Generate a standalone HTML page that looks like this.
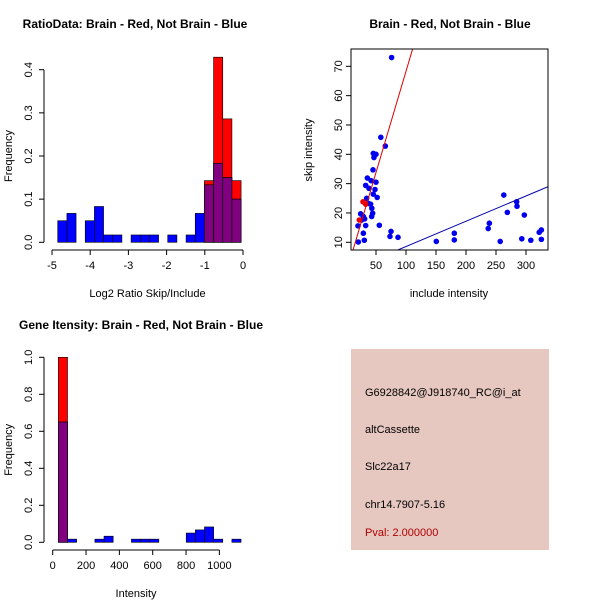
<!DOCTYPE html>
<html><head><meta charset="utf-8"><style>
body{margin:0;background:#fff}
svg{display:block;font-family:"Liberation Sans",sans-serif}
</style></head><body>
<svg id="c" width="600" height="600" viewBox="0 0 600 600" xmlns="http://www.w3.org/2000/svg">
<rect width="600" height="600" fill="#fff"/>
<g id="p1"></g>
<g id="p2"></g>
<g id="p3"></g>
<g id="p4">
<rect x="351" y="349" width="198" height="201" fill="#e6c8c1"/>
<text x="365" y="396" font-size="11">G6928842@J918740_RC@i_at</text>
<text x="365" y="433" font-size="11">altCassette</text>
<text x="365" y="470" font-size="11">Slc22a17</text>
<text x="365" y="508" font-size="11">chr14.7907-5.16</text>
<text x="365" y="536" font-size="11" fill="#b00000">Pval: 2.000000</text>
</g>
</svg>
<script>
// ---- Plot 1 data
const ratioBinStart = -4.85;
const ratioBinWidth = 0.24;
const ratioBlue = [0.05,0.067,0,0.05,0.083,0.017,0.017,0,0.017,0.017,0.017,0,0.017,0,0.017,0.067,0.133,0.183,0.15,0.1];
const ratioRed = [0,0,0,0,0,0,0,0,0,0,0,0,0,0,0,0,0.143,0.429,0.286,0.143];
const ratioXTicks = [-5,-4,-3,-2,-1,0];
const ratioYTicks = [0,0.1,0.2,0.3,0.4];
// ---- Plot 2 data
const incIntensity = [76,58,65.5,45.5,46.6,50,45,35.6,42,50,32.8,38.3,48.3,45.5,52,34.4,37,41,43,44.4,42.8,24.4,28.9,26,31,32.8,20,28.9,30.5,20.5,55.5,75,73.3,86.7,150.5,180.5,180.5,237,238.9,263,268.9,284.4,285,297.2,257,293,308,322,325.6,325.6];
const skipIntensity = [73,45.8,42.8,40.3,38.9,40,34.7,31.9,31,30.5,29.4,28.4,28,26.4,25.3,25,23.3,23,21.6,19.9,18.8,19.7,18.8,17.6,18,15.7,15.6,13.1,10.7,10.1,15.8,13.7,12,11.7,10.3,13.1,10.8,14.7,16.5,26.1,20.2,23.8,22.3,19.3,10.3,11.2,10.7,13.4,14.2,11];
const redInc = [28.3,32.8,22.2];
const redSkip = [23.8,23,17.6];
const redFit = [-0.7,0.69];
const blueFit = [-0.06,0.0862];
const scatXTicks = [50,100,150,200,250,300];
const scatYTicks = [10,20,30,40,50,60,70];
// ---- Plot 3 data
const intBinStart = 34;
const intBinWidth = 54.8;
const intBlue = [0.65,0.017,0,0,0.017,0.033,0,0,0.017,0.017,0.017,0,0,0,0.05,0.067,0.083,0.017,0,0.017];
const intRed = [1.0,0,0,0,0,0,0,0,0,0,0,0,0,0,0,0,0,0,0,0];
const intXTicks = [0,200,400,600,800,1000];
const intYTicks = [0,0.2,0.4,0.6,0.8,1.0];

const NS="http://www.w3.org/2000/svg";
function mk(parent,tag,attrs){const e=document.createElementNS(NS,tag);for(const k in attrs)e.setAttribute(k,attrs[k]);parent.appendChild(e);return e;}
function txt(parent,x,y,s,attrs){const e=mk(parent,'text',Object.assign({x:x,y:y,'font-size':11,'text-anchor':'middle'},attrs||{}));e.textContent=s;return e;}

function histogram(g,cfg){
  const sx=v=>cfg.x0px+(v-cfg.x0)*cfg.kx, sy=v=>cfg.y0px-v*cfg.ky;
  const t=txt(g,cfg.titleX,cfg.titleY,cfg.title,{'font-weight':'bold','font-size':12});
  
  
  for(let i=0;i<cfg.blue.length;i++){
    const a=cfg.start+i*cfg.w, b=a+cfg.w;
    const x=sx(a), wd=sx(b)-sx(a);
    if(cfg.red[i]>0){const r=mk(g,'rect',{x:x,y:sy(cfg.red[i]),width:wd,height:cfg.red[i]*cfg.ky,fill:'#ff0000',stroke:'#000','stroke-width':0.6});
      
      }
    if(cfg.blue[i]>0){const r=mk(g,'rect',{x:x,y:sy(cfg.blue[i]),width:wd,height:cfg.blue[i]*cfg.ky,fill:'#0000ff',stroke:'#000','stroke-width':0.6});
      
      }
    const m=Math.min(cfg.red[i],cfg.blue[i]);
    if(m>0){const r=mk(g,'rect',{x:x,y:sy(m),width:wd,height:m*cfg.ky,fill:'#800080',stroke:'#000','stroke-width':0.6});
      
      }
  }
  const xa=mk(g,'g',{});
  
  
  const xt=cfg.xticks;
  mk(xa,'line',{x1:sx(xt[0]),x2:sx(xt[xt.length-1]),y1:cfg.axY,y2:cfg.axY,stroke:'#000'});
  xt.forEach(v=>{mk(xa,'line',{x1:sx(v),x2:sx(v),y1:cfg.axY,y2:cfg.axY+5,stroke:'#000'});txt(xa,sx(v),cfg.axY+19,String(v));});
  const yl=txt(g,(sx(xt[0])+sx(xt[xt.length-1]))/2,cfg.axY+47,cfg.xlab);
  
  
  const ya=mk(g,'g',{});
  
  
  const yt=cfg.yticks;
  mk(ya,'line',{x1:cfg.axX,x2:cfg.axX,y1:sy(yt[0]),y2:sy(yt[yt.length-1]),stroke:'#000'});
  yt.forEach(v=>{mk(ya,'line',{x1:cfg.axX,x2:cfg.axX-5,y1:sy(v),y2:sy(v),stroke:'#000'});
    const y=sy(v);txt(ya,cfg.axX-12,y,v.toFixed(1),{transform:`rotate(-90 ${cfg.axX-12} ${y})`});});
  const yy=(sy(yt[0])+sy(yt[yt.length-1]))/2;
  const ytl=txt(g,12,yy,'Frequency',{transform:`rotate(-90 12 ${yy})`});
  
  
}

histogram(document.getElementById('p1'),{title:'RatioData: Brain - Red, Not Brain - Blue',titleX:135,titleY:28,
  x0:-5,x0px:52,kx:38.2,y0px:242.3,ky:431.5,start:ratioBinStart,w:ratioBinWidth,blue:ratioBlue,red:ratioRed,
  xticks:ratioXTicks,yticks:ratioYTicks,axY:250,axX:44,xlab:'Log2 Ratio Skip/Include'});
histogram(document.getElementById('p3'),{title:'Gene Itensity: Brain - Red, Not Brain - Blue',titleX:141,titleY:329,
  x0:0,x0px:52.7,kx:0.16667,y0px:542.3,ky:185,start:intBinStart,w:intBinWidth,blue:intBlue,red:intRed,
  xticks:intXTicks,yticks:intYTicks,axY:550,axX:44,xlab:'Intensity'});

(function(){
  const g=document.getElementById('p2');
  const sx=v=>346+v*0.6, sy=v=>242.3-(v-10)*2.933;
  const L=351,R=548,T=49,B=250;
  const t=txt(g,450,28,'Brain - Red, Not Brain - Blue',{'font-weight':'bold','font-size':12});
  
  
  const cp=mk(g,'clipPath',{id:'cl'});mk(cp,'rect',{x:L,y:T,width:R-L,height:B-T});
  const pts=mk(g,'g',{'clip-path':'url(#cl)'});
  for(let i=0;i<incIntensity.length;i++){const c=mk(pts,'circle',{cx:sx(incIntensity[i]),cy:sy(skipIntensity[i]),r:2.8,fill:'#0000ee'});
    
    }
  for(let i=0;i<redInc.length;i++){const c=mk(pts,'circle',{cx:sx(redInc[i]),cy:sy(redSkip[i]),r:2.8,fill:'#ee0000'});
    
    }
  const lr=mk(pts,'line',{x1:sx(0),y1:sy(redFit[0]),x2:sx(400),y2:sy(redFit[0]+redFit[1]*400),stroke:'#dd0000','stroke-width':1});
  
  
  const lb=mk(pts,'line',{x1:sx(0),y1:sy(blueFit[0]),x2:sx(400),y2:sy(blueFit[0]+blueFit[1]*400),stroke:'#0000aa','stroke-width':1});
  
  
  mk(g,'rect',{x:L,y:T,width:R-L,height:B-T,fill:'none',stroke:'#000'});
  const xa=mk(g,'g',{});
  
  
  scatXTicks.forEach(v=>{mk(xa,'line',{x1:sx(v),x2:sx(v),y1:B,y2:B+5,stroke:'#000'});txt(xa,sx(v),B+19,String(v));});
  const xl=txt(g,449,B+47,'include intensity');
  
  
  const ya=mk(g,'g',{});
  
  
  scatYTicks.forEach(v=>{const y=sy(v);mk(ya,'line',{x1:L,x2:L-5,y1:y,y2:y,stroke:'#000'});txt(ya,L-9,y,String(v),{transform:`rotate(-90 ${L-9} ${y})`});});
  const yl=txt(g,312,150,'skip intensity',{transform:'rotate(-90 312 150)'});
  
  
})();
</script>
</body></html>
